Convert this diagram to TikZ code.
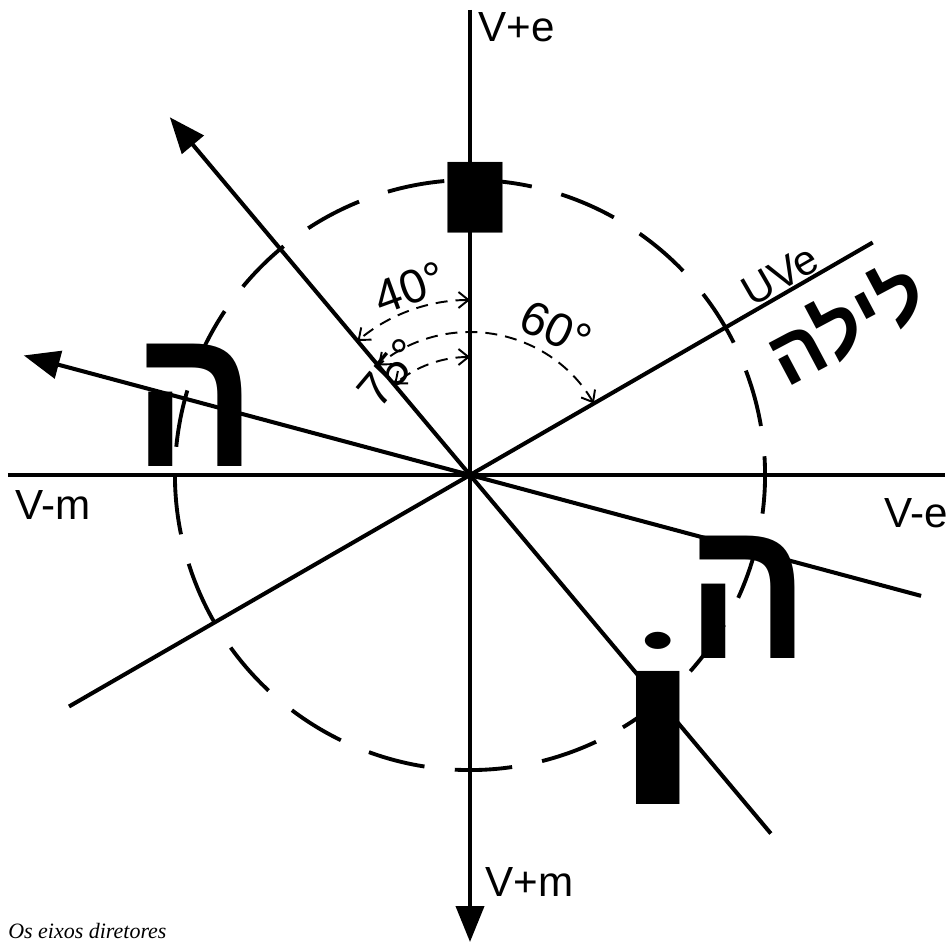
\documentclass[tikz,border=0pt]{standalone}
\usepackage{fontspec}
\setmainfont{Liberation Sans}
\newfontfamily\hebfont[Script=Hebrew]{Liberation Sans}
\newfontfamily\capfont{Liberation Serif}
\TeXXeTstate=1
\usetikzlibrary{arrows.meta}

\begin{document}
\begin{tikzpicture}[x=0.02cm, y=0.02cm,
    axis/.style={line width=2.3pt},
    bigtip/.style={-{Triangle[length=0.72cm, width=0.56cm]}},
    ring/.style={line width=2.2pt, dash pattern=on 1.15cm off 0.61cm},
    angarc/.style={line width=1.1pt, dash pattern=on 0.24cm off 0.16cm,
      {Straight Barb[length=0.2cm, width=0.32cm]}-{Straight Barb[length=0.2cm, width=0.32cm]}},
    axlabel/.style={inner sep=0pt, font=\fontsize{24}{28}\selectfont},
    anglabel/.style={inner sep=0pt, font=\fontsize{27}{30}\selectfont},
    letter/.style={inner sep=0pt, font=\hebfont\bfseries\fontsize{#1}{#1}\selectfont},
  ]
  \useasboundingbox (-470,-468) rectangle (482,475);

  % centre and the ends of the axes
  \coordinate (O) at (0,0);
  \coordinate (ePlus)  at (0,465);
  \coordinate (mPlus)  at (0,-467);
  \coordinate (mMinus) at (-462,0);
  \coordinate (eMinus) at (475,0);
  \coordinate (a130) at (130:467);
  \coordinate (a310) at (-50:468);
  \coordinate (a165) at (165:462);
  \coordinate (a345) at (-15:467);
  \coordinate (uve)  at (30:465);
  \coordinate (a210) at (210:463);

  % dashed ring
  \draw[ring] (198.7:295) arc[start angle=198.7, end angle=558.7, radius=295];

  % axes
  \draw[axis] (mMinus) -- (eMinus);
  \draw[axis, bigtip] (ePlus) -- (mPlus);
  \draw[axis, bigtip] (a310) -- (a130);
  \draw[axis, bigtip] (a345) -- (a165);
  \draw[axis] (a210) -- (uve);

  % angles
  \draw[angarc] (90:175) arc[start angle=90, end angle=130, radius=175];
  \draw[angarc] (30:143) arc[start angle=30, end angle=130, radius=143];
  \draw[angarc] (90:118) arc[start angle=90, end angle=130, radius=118];
  \node[anglabel, rotate=20]  (ang40) at (-60,187) {40°};
  \node[anglabel, rotate=-25] (ang60) at (86,146)  {60°};
  \node[anglabel, rotate=50]  (ang75) at (-80,102) {75°};

  % axis labels
  \node[axlabel, anchor=west] (lePlus)  at (8,448)    {V+e};
  \node[axlabel, anchor=east] (leMinus) at (478,-38)  {V-e};
  \node[axlabel, anchor=west] (lmMinus) at (-455,-30) {V-m};
  \node[axlabel, anchor=west] (lmPlus)  at (15,-407)  {V+m};
  \node[axlabel, rotate=30]   (luve)    at (310,200)  {UVe};

  % letters
  \node[letter=125, xscale=1.9] (yod) at (5,246)    {י};
  \node[letter=115, xscale=0.9] (heL) at (-275,70)  {ה};
  \node[letter=115, xscale=0.9] (heR) at (278,-122) {ה};
  \node[letter=125, xscale=1.5] (vav) at (188,-243) {\beginR וֹ\endR};
  \node[letter=45, rotate=28] (lailah) at (375,153) {\beginR לילה\endR};

  \node[anchor=base west, inner sep=0pt, font=\capfont\itshape\fontsize{12.5}{14}\selectfont]
    (caption) at (-462,-463) {Os eixos diretores};
\end{tikzpicture}
\end{document}
